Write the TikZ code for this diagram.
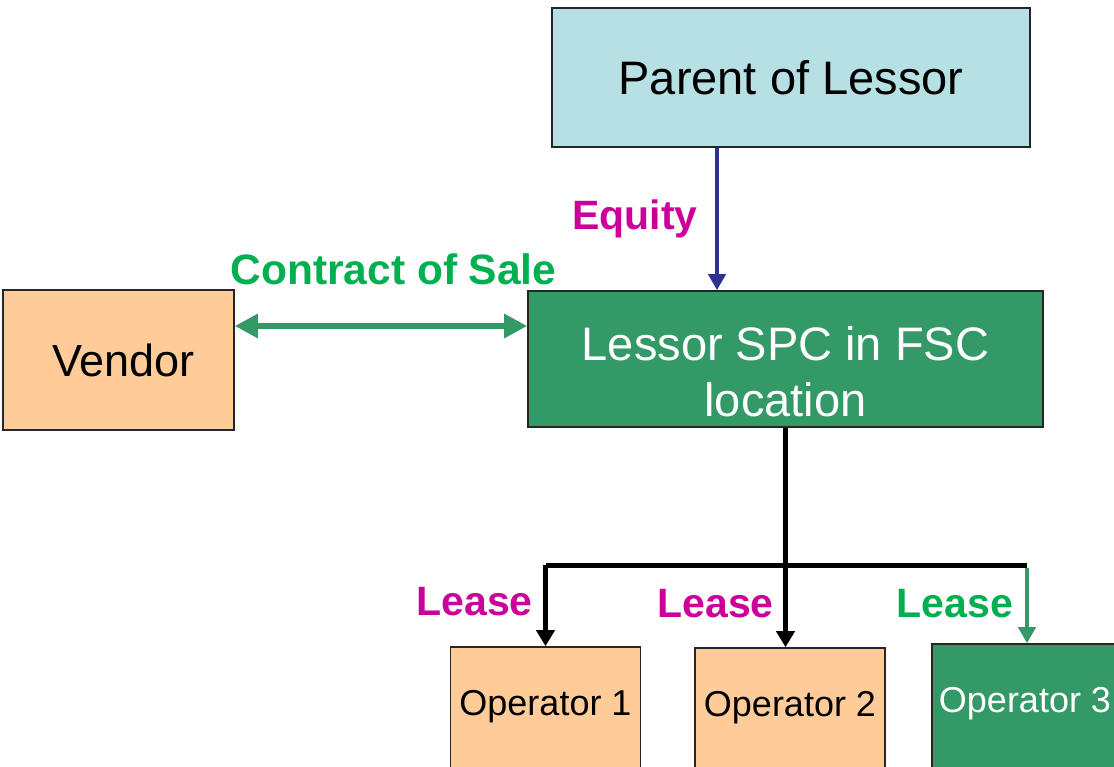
\documentclass[tikz,border=0pt]{standalone}
\usepackage{fontspec}
\setmainfont{Liberation Sans}
\usetikzlibrary{arrows.meta,calc}
\definecolor{paleblue}{HTML}{B7E0E4}
\definecolor{peach}{HTML}{FFCC99}
\definecolor{sea}{HTML}{339966}
\definecolor{magenta}{HTML}{CC0099}
\definecolor{leaf}{HTML}{00B050}
\definecolor{navy}{HTML}{2E3192}
\tikzset{
  box/.style={draw=black!85, line width=1.6pt, inner sep=0pt},
  bigtext/.style={font=\fontsize{47}{56.4}\selectfont},
  optext/.style={font=\fontsize{36}{43}\selectfont, text height=68pt, text depth=70pt,
                 minimum width=190pt, anchor=base},
  tag/.style={font=\bfseries\fontsize{41}{49}\selectfont, anchor=base},
  flow/.style={line width=5pt, -{Triangle[width=18pt,length=16pt]}},
}
\begin{document}
\begin{tikzpicture}[x=1pt,y=-1pt]
\useasboundingbox (0,0) rectangle (1114,766);
\clip (0,0) rectangle (1114,766);

% entities
\node[box, fill=paleblue, bigtext, minimum width=478pt, minimum height=139pt,
      text height=33.7pt, text depth=0pt] (parent) at (791,77.5) {Parent of Lessor};
\node[box, fill=peach, font=\fontsize{45}{54}\selectfont, minimum width=231pt,
      minimum height=140pt, text height=32.2pt, text depth=0pt] (vendor) at (118.5,360) {\hspace*{10pt}Vendor};
\node[box, fill=sea, text=white, bigtext, align=center, minimum width=515pt,
      minimum height=136pt] (lessor) at (785.5,359) {\rule{0pt}{59pt}Lessor SPC in FSC\\location};
\node[box, fill=peach, optext] (op1) at (545.5,715) {Operator 1};
\node[box, fill=peach, optext] (op2) at (790,716) {Operator 2};
\node[box, fill=sea, text=white, optext] (op3) at (1027,712) {\hspace*{-4pt}Operator 3};

% equity link
\coordinate (eqx) at (717,0);
\draw[navy, line width=4.5pt, -{Triangle[width=17pt,length=16pt]}]
  (parent.south -| eqx) -- (lessor.north -| eqx);
\node[tag, text=magenta] (equity) at (635,229) {Equity};

% sale contract
\coordinate (cs) at ($(vendor.east)+(0,-34)$);
\draw[sea, line width=6pt, {Triangle[width=23pt,length=23pt]}-{Triangle[width=23pt,length=23pt]}]
  (cs) -- (cs -| lessor.west);
\node[tag, font=\bfseries\fontsize{42.5}{51}\selectfont, text=leaf] (sale) at (393.5,284) {Contract of Sale};

% leases
\coordinate (bar) at (0,565);
\draw[flow] (lessor.south) -- (lessor.south |- op2.north);
\draw[line width=5pt] (op1.north |- bar) -- (op3.north |- bar);
\draw[flow] (op1.north |- bar) -- (op1.north);
\draw[sea, line width=4.5pt, -{Triangle[width=17pt,length=16pt]}]
  ([yshift=-2.5pt]op3.north |- bar) -- (op3.north);
\node[tag, text=magenta] (lease1) at (474.5,615) {Lease};
\node[tag, text=magenta] (lease2) at (715.5,617) {Lease};
\node[tag, text=leaf] (lease3) at (955,617) {Lease};
\end{tikzpicture}
\end{document}
